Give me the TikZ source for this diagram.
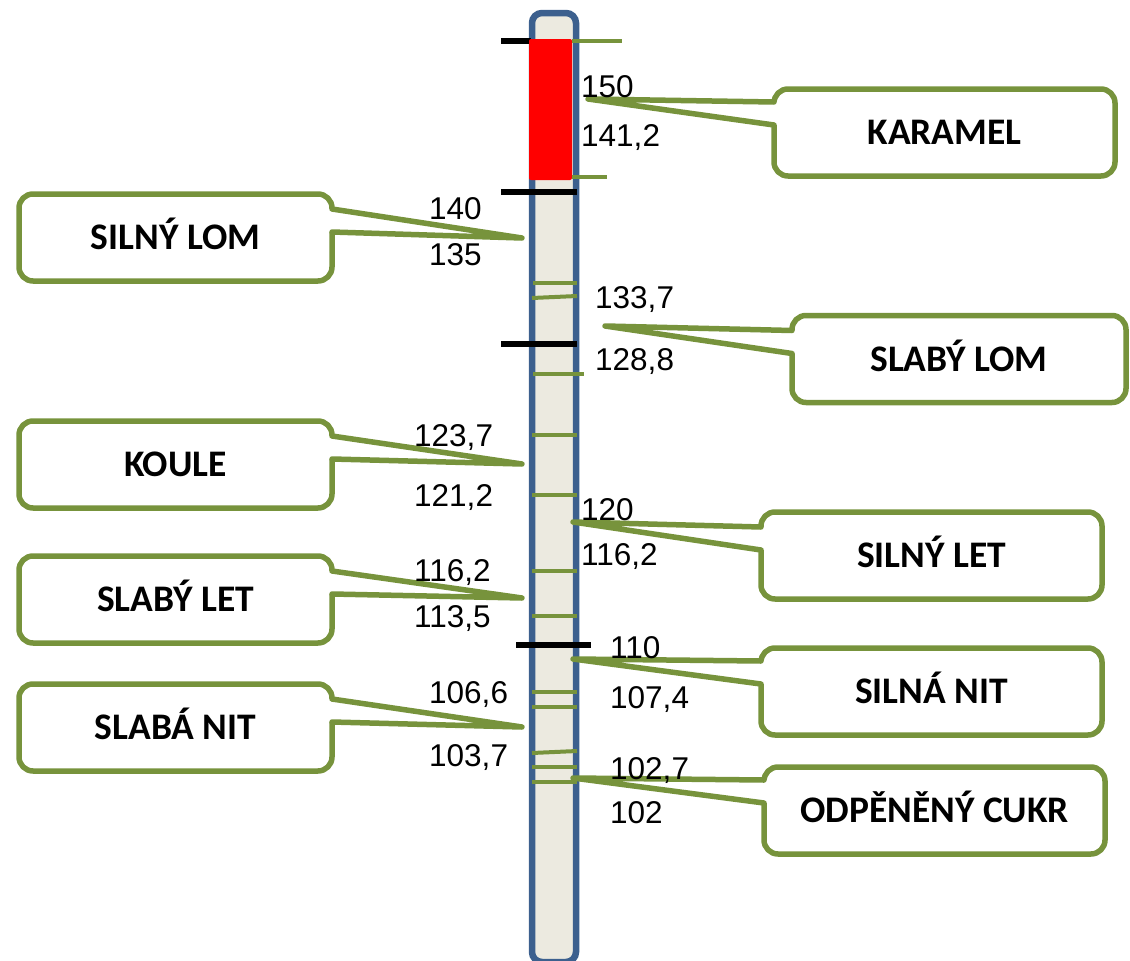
\documentclass[tikz,border=0pt]{standalone}
\usepackage{fontspec}
\setmainfont{Liberation Sans}
\newfontfamily\calloutfont{Carlito}
\usepackage{tikz}
\usetikzlibrary{positioning}

\definecolor{tubeblue}{RGB}{60,96,142}
\definecolor{tubefill}{RGB}{236,234,224}
\definecolor{olive}{RGB}{119,147,60}

\begin{document}
\begin{tikzpicture}[
	  x=1pt, y=-1pt,
	  calloutbox/.style = {shape=rectangle, rounded corners=14pt, draw=olive, line width=5.5pt, fill=white, outer sep=0pt, inner sep=0pt,
	    minimum width=341pt, minimum height=87pt, text height=24pt, text depth=0pt, font=\calloutfont\bfseries\fontsize{37.5}{40}\selectfont},
	  wedgeline/.style = {draw=olive, line width=5.5pt, line join=round, line cap=round},
	  greentick/.style = {draw=olive, line width=4pt},
	  blackbar/.style = {draw=black, line width=5.5pt},
	  numlabel/.style = {font=\fontsize{31.5}{36}\selectfont, inner sep=0pt, anchor=base west}
	]
	  \useasboundingbox (0,0) rectangle (1130,961);

	  % the tube
	  \draw[draw=tubeblue, fill=tubefill, line width=6.5pt, rounded corners=10pt] (532,13) rectangle (576,962);
	  \draw[blackbar] (501,41) -- (531,41);
	  \draw[blackbar] (501,192) -- (577,192);
	  \draw[blackbar] (501,344) -- (577,344);
	  \draw[blackbar] (516,645) -- (591,645);
	  \fill[red, rounded corners=2pt] (529,39) rectangle (572,180);

	  % ticks
	  \draw[greentick] (572,41) -- (622,41);
	  \draw[greentick] (572,177) -- (607,177);
	  \draw[greentick] (533,283) -- (577,283);
	  \draw[greentick] (532,298) -- (577,296);
	  \draw[greentick] (533,374) -- (584,374);
	  \draw[greentick] (532,435) -- (577,435);
	  \draw[greentick] (532,495) -- (577,495);
	  \draw[greentick] (532,571) -- (577,571);
	  \draw[greentick] (532,616) -- (577,616);
	  \draw[greentick] (532,692) -- (577,692);
	  \draw[greentick] (532,707) -- (577,707);
	  \draw[greentick] (532,753) -- (577,751);
	  \draw[greentick] (532,767) -- (577,767);
	  \draw[greentick] (532,782) -- (577,782);

	  % callouts on the right
	  \node[calloutbox] (karamel) at (944.5,132.5) {KARAMEL};
	  \coordinate (karamel tip) at (588,99);
	  \fill[white] ([shift={(3.5pt,-13pt)}]karamel.north west) -- (karamel tip) -- ([shift={(3.5pt,-36pt)}]karamel.north west) -- cycle;
	  \draw[wedgeline] ([yshift=-13pt]karamel.north west) -- (karamel tip) -- ([yshift=-36pt]karamel.north west);

	  \node[calloutbox, minimum width=334pt] (slabylom) at (959,359) {SLABÝ LOM};
	  \coordinate (slabylom tip) at (605,326);
	  \fill[white] ([shift={(3.5pt,-15pt)}]slabylom.north west) -- (slabylom tip) -- ([shift={(3.5pt,-38pt)}]slabylom.north west) -- cycle;
	  \draw[wedgeline] ([yshift=-15pt]slabylom.north west) -- (slabylom tip) -- ([yshift=-38pt]slabylom.north west);

	  \node[calloutbox] (silnylet) at (931.5,555.5) {SILNÝ LET};
	  \coordinate (silnylet tip) at (573,522);
	  \fill[white] ([shift={(3.5pt,-15pt)}]silnylet.north west) -- (silnylet tip) -- ([shift={(3.5pt,-38pt)}]silnylet.north west) -- cycle;
	  \draw[wedgeline] ([yshift=-15pt]silnylet.north west) -- (silnylet tip) -- ([yshift=-38pt]silnylet.north west);

	  \node[calloutbox] (silnanit) at (931.5,691.5) {SILNÁ NIT};
	  \coordinate (silnanit tip) at (573,659);
	  \fill[white] ([shift={(3.5pt,-13pt)}]silnanit.north west) -- (silnanit tip) -- ([shift={(3.5pt,-36pt)}]silnanit.north west) -- cycle;
	  \draw[wedgeline] ([yshift=-13pt]silnanit.north west) -- (silnanit tip) -- ([yshift=-36pt]silnanit.north west);

	  \node[calloutbox] (cukr) at (934.5,810.5) {ODPĚNĚNÝ CUKR};
	  \coordinate (cukr tip) at (573,778);
	  \fill[white] ([shift={(3.5pt,-13pt)}]cukr.north west) -- (cukr tip) -- ([shift={(3.5pt,-36pt)}]cukr.north west) -- cycle;
	  \draw[wedgeline] ([yshift=-13pt]cukr.north west) -- (cukr tip) -- ([yshift=-36pt]cukr.north west);

	  % callouts on the left
	  \node[calloutbox, minimum width=313pt] (silnylom) at (175.5,237.5) {SILNÝ LOM};
	  \coordinate (silnylom tip) at (522,238);
	  \fill[white] ([shift={(-3.5pt,-15pt)}]silnylom.north east) -- (silnylom tip) -- ([shift={(-3.5pt,-38pt)}]silnylom.north east) -- cycle;
	  \draw[wedgeline] ([yshift=-15pt]silnylom.north east) -- (silnylom tip) -- ([yshift=-38pt]silnylom.north east);

	  \node[calloutbox, minimum width=313pt] (koule) at (175.5,464.5) {KOULE};
	  \coordinate (koule tip) at (522,464);
	  \fill[white] ([shift={(-3.5pt,-15pt)}]koule.north east) -- (koule tip) -- ([shift={(-3.5pt,-38pt)}]koule.north east) -- cycle;
	  \draw[wedgeline] ([yshift=-15pt]koule.north east) -- (koule tip) -- ([yshift=-38pt]koule.north east);

	  \node[calloutbox, minimum width=313pt] (slabylet) at (175.5,599.5) {SLABÝ LET};
	  \coordinate (slabylet tip) at (522,598);
	  \fill[white] ([shift={(-3.5pt,-15pt)}]slabylet.north east) -- (slabylet tip) -- ([shift={(-3.5pt,-38pt)}]slabylet.north east) -- cycle;
	  \draw[wedgeline] ([yshift=-15pt]slabylet.north east) -- (slabylet tip) -- ([yshift=-38pt]slabylet.north east);

	  \node[calloutbox, minimum width=313pt] (slabanit) at (175.5,727.5) {SLABÁ NIT};
	  \coordinate (slabanit tip) at (522,727);
	  \fill[white] ([shift={(-3.5pt,-15pt)}]slabanit.north east) -- (slabanit tip) -- ([shift={(-3.5pt,-38pt)}]slabanit.north east) -- cycle;
	  \draw[wedgeline] ([yshift=-15pt]slabanit.north east) -- (slabanit tip) -- ([yshift=-38pt]slabanit.north east);

	  % values
	  \node[numlabel] (v150) at (581,97) {150};
	  \node[numlabel] (v1412) at (581,146) {141,2};
	  \node[numlabel] (v140) at (429,219) {140};
	  \node[numlabel] (v135) at (429,265) {135};
	  \node[numlabel] (v1337) at (595,308) {133,7};
	  \node[numlabel] (v1288) at (595,370) {128,8};
	  \node[numlabel] (v1237) at (414,446) {123,7};
	  \node[numlabel] (v1212) at (414,506) {121,2};
	  \node[numlabel] (v120) at (581,520) {120};
	  \node[numlabel] (v1162r) at (581,565) {116,2};
	  \node[numlabel] (v1162l) at (414,581) {116,2};
	  \node[numlabel] (v1135) at (414,627) {113,5};
	  \node[numlabel] (v110) at (610,658) {110};
	  \node[numlabel] (v1074) at (610,708) {107,4};
	  \node[numlabel] (v1066) at (429,703) {106,6};
	  \node[numlabel] (v1037) at (429,766) {103,7};
	  \node[numlabel] (v1027) at (610,779) {102,7};
	  \node[numlabel] (v102) at (610,823) {102};
	\end{tikzpicture}
\end{document}
